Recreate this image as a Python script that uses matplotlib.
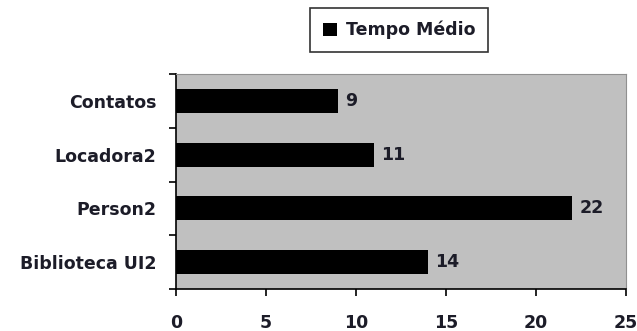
import numpy as np
import matplotlib.pyplot as plt

# dados do gráfico
categorias = ['Biblioteca UI2', 'Person2', 'Locadora2', 'Contatos']
tempo_medio = [14, 22, 11, 9]
xticks = [0, 5, 10, 15, 20, 25]

plt.rcParams['font.family'] = ['DejaVu Sans']
cor_texto = '#1c1c28'

fig = plt.figure(figsize=(6.37, 3.31), dpi=100)
ax = fig.add_axes([176 / 637, 1 - 289 / 331, 450 / 637, 215 / 331])
ax.set_facecolor('#c0c0c0')

y = np.arange(len(categorias))
bars = ax.barh(y, tempo_medio, height=0.45, color='black', label='Tempo Médio')

for b, v in zip(bars, tempo_medio):
    ax.text(b.get_width() + 0.4, b.get_y() + b.get_height() / 2, str(v),
            va='center', ha='left', fontsize=12.5, fontweight='bold', color=cor_texto)

ax.set_xlim(0, 25)
ax.set_ylim(-0.5, len(categorias) - 0.5)
ax.set_xticks(xticks)
ax.set_xticklabels([str(t) for t in xticks], fontsize=12.5, fontweight='bold', color=cor_texto)
ax.set_yticks(y)
ax.set_yticklabels(categorias, fontsize=12.5, fontweight='bold', color=cor_texto)
ax.tick_params(axis='y', length=0, pad=14)
ax.tick_params(axis='x', length=5, width=1.2, pad=13)

# marcas do eixo y entre as categorias
ax.set_yticks(np.arange(-0.5, len(categorias), 1), minor=True)
ax.tick_params(axis='y', which='minor', length=5, width=1.2)

for s in ['top', 'right']:
    ax.spines[s].set_color('#909090')
    ax.spines[s].set_linewidth(0.8)
for s in ['left', 'bottom']:
    ax.spines[s].set_color('black')
    ax.spines[s].set_linewidth(1.2)

leg = fig.legend(handles=[bars], labels=['Tempo Médio'], loc='center',
                 bbox_to_anchor=(399 / 637, 1 - 30 / 331), frameon=True,
                 fancybox=False, edgecolor='black', handlelength=0.8,
                 handleheight=0.8, handletextpad=0.5, borderpad=0.75,
                 borderaxespad=0, prop={'size': 12.5, 'weight': 'bold'})
leg.get_frame().set_linewidth(1.2)
for t in leg.get_texts():
    t.set_color(cor_texto)

fig.savefig('out.png', dpi=100)
